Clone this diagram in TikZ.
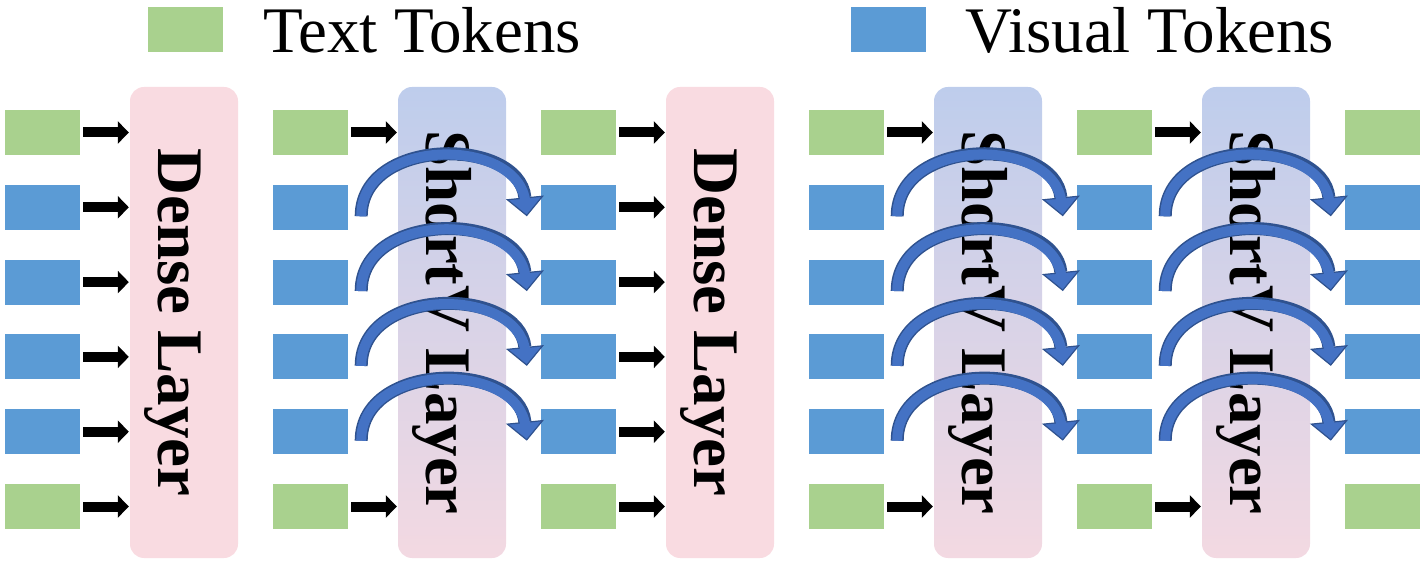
\documentclass[tikz,border=0pt]{standalone}
\usepackage{fontspec}
\setmainfont{Liberation Serif}
\usepackage{tikz}
\usetikzlibrary{arrows.meta}

\definecolor{textgreen}{RGB}{169,209,142}
\definecolor{visblue}{RGB}{91,155,213}
\definecolor{densepink}{RGB}{249,219,225}
\definecolor{shortA}{RGB}{190,205,236}
\definecolor{shortB}{RGB}{180,197,233}
\definecolor{shortC}{RGB}{243,217,226}
\definecolor{curvefill}{RGB}{68,114,196}
\definecolor{curveedge}{RGB}{47,82,143}

\begin{document}
\begin{tikzpicture}[x=1pt,y=1pt,node distance=74.8pt,
  tok/.style={rectangle,inner sep=0pt,minimum width=75pt,minimum height=45pt},
  text tok/.style={tok,fill=textgreen},
  vis tok/.style={tok,fill=visblue},
  layer/.style={rectangle,rounded corners=14pt,minimum width=108pt,minimum height=471pt},
  dense layer/.style={layer,fill=densepink},
  short layer/.style={layer,top color=shortA,middle color=shortB,bottom color=shortC},
  layer text/.style={xshift=-26pt,rotate=-90,anchor=base,inner sep=0pt,font=\fontsize{65}{65}\selectfont\bfseries},
  legend text/.style={anchor=base west,inner sep=0pt,font=\fontsize{65}{65}\selectfont},
  tok arrow/.style={line width=10pt,-{Triangle[length=11pt,width=22pt]},shorten <=3pt,shorten >=1pt},
  curve arrow/.style={draw=curveedge,line width=13pt,
    -{Triangle[length=19pt,width=38pt,line width=1.2pt,fill=curvefill]},
    postaction={draw=curvefill,line width=10pt,-,shorten >=14pt}}]

  \useasboundingbox (0,0) rectangle (1426,565);

  % legend
  \node[text tok] (lg1) at (185,535.5) {};
  \node[legend text] (lg1t) at (263,512) {Text Tokens};
  \node[vis tok] (lg2) at (888,535.5) {};
  \node[legend text] (lg2t) at (965,512) {Visual Tokens};

  % token columns
  \foreach \c/\x in {1/42.5,2/310.5,3/578.5,4/846.5,5/1114.5,6/1382.5} {
    \node[text tok] (\c1) at (\x,432.5) {};
    \node[vis tok]  (\c2) [below of=\c1] {};
    \node[vis tok]  (\c3) [below of=\c2] {};
    \node[vis tok]  (\c4) [below of=\c3] {};
    \node[vis tok]  (\c5) [below of=\c4] {};
    \node[text tok] (\c6) [below of=\c5] {};
  }

  % layers
  \node[dense layer] (d1) at (184,242.5) {};
  \node[short layer] (s1) at (452,242.5) {};
  \node[dense layer] (d2) at (720,242.5) {};
  \node[short layer] (s2) at (988,242.5) {};
  \node[short layer] (s3) at (1256,242.5) {};

  \node[layer text] (d1t) at (d1) {Dense Layer};
  \node[layer text] (s1t) at (s1) {ShortV Layer};
  \node[layer text] (d2t) at (d2) {Dense Layer};
  \node[layer text] (s2t) at (s2) {ShortV Layer};
  \node[layer text] (s3t) at (s3) {ShortV Layer};

  % arrows into the layers
  \foreach \r in {1,...,6} {
    \draw[tok arrow] (1\r.east) -- (1\r.east -| d1.west);
    \draw[tok arrow] (3\r.east) -- (3\r.east -| d2.west);
  }
  \foreach \c/\l in {2/s1,4/s2,5/s3} {
    \draw[tok arrow] (\c1.east) -- (\c1.east -| \l.west);
    \draw[tok arrow] (\c6.east) -- (\c6.east -| \l.west);
  }

  % skipped visual tokens
  \foreach \c/\n in {2/3,4/5,5/6}
    \foreach \r in {2,...,5}
      \draw[curve arrow] ([xshift=13pt,yshift=-9pt]\c\r.east) .. controls +(0,80) and +(-8,80) .. ([xshift=-14pt,yshift=-9pt]\n\r.west);
\end{tikzpicture}
\end{document}
